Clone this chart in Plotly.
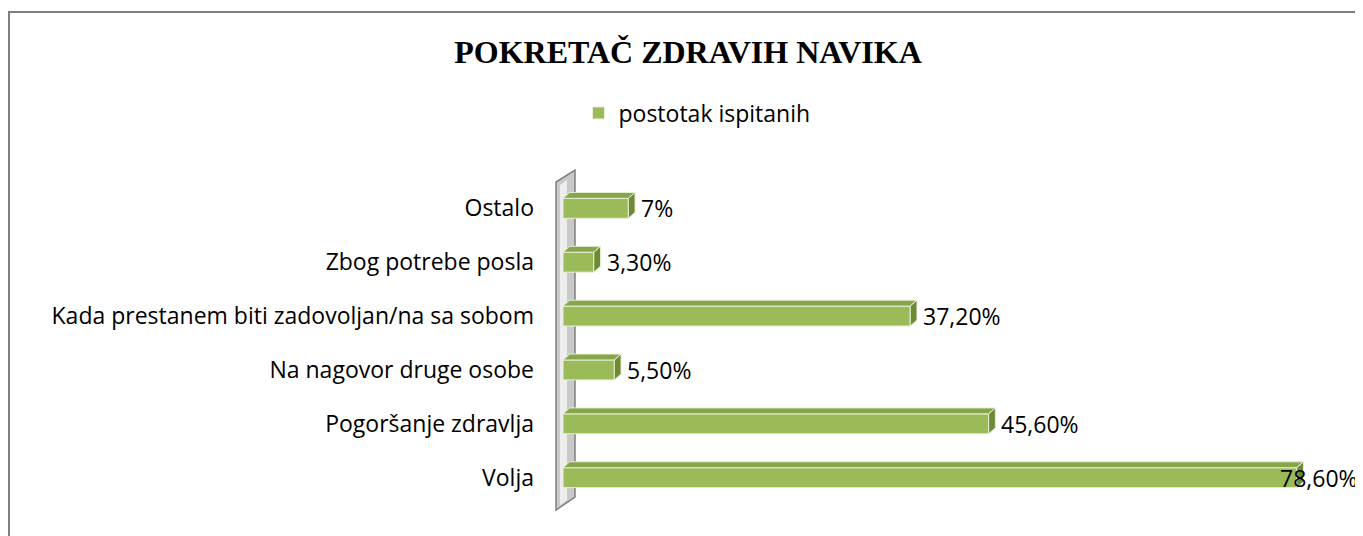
import plotly.graph_objects as go

categories = ["Volja", "Pogoršanje zdravlja", "Na nagovor druge osobe",
              "Kada prestanem biti zadovoljan/na sa sobom", "Zbog potrebe posla", "Ostalo"]
values = [78.6, 45.6, 5.5, 37.2, 3.3, 7.0]
labels = ["78,60%", "45,60%", "5,50%", "37,20%", "3,30%", "7%"]
series_name = "postotak ispitanih"
title_text = "POKRETAČ ZDRAVIH NAVIKA"

# page body has an 8px margin; figure is sized so the page fills the window
OFF = 8
W, H = 1363 - OFF, 536 - OFF
GREEN = "#9BBB59"
TOP = "#86A64A"
SIDE = "#6F8A35"
EDGE = "#E8EFD8"
FONT = "Open Sans"
FS = 23

XMAX = 85.7
YR = [-0.6, 5.6]
bar_w = 0.37
dx = 0.72   # depth offset in x data units
dy = 0.11   # depth offset in y data units

idx = list(range(len(categories)))


def px(x, y):
    """screen pixel -> paper coordinates"""
    return (x - OFF) / W, 1 - (y - OFF) / H


fig = go.Figure()
fig.add_trace(go.Bar(
    x=values, y=idx, orientation="h", width=bar_w,
    marker=dict(color=GREEN, line=dict(color=EDGE, width=1)),
    name=series_name, showlegend=True,
))

shapes = []
# 3D wall on the left
wall = [px(556, 510), px(556, 182), px(575, 170), px(575, 497)]
path = "M " + " L ".join(f"{a},{b}" for a, b in wall) + " Z"
shapes.append(dict(type="path", xref="paper", yref="paper", path=path,
                   fillcolor="#C9C9C9", line=dict(color="#7F7F7F", width=1.5), layer="below"))
inner = [px(560, 505), px(560, 185), px(567, 180), px(567, 500)]
path2 = "M " + " L ".join(f"{a},{b}" for a, b in inner) + " Z"
shapes.append(dict(type="path", xref="paper", yref="paper", path=path2,
                   fillcolor="#EDEDED", line=dict(width=0), layer="below"))

# 3D faces of bars
for i, v in zip(idx, values):
    t = i + bar_w / 2
    b = i - bar_w / 2
    top = f"M 0,{t} L {v},{t} L {v+dx},{t+dy} L {dx},{t+dy} Z"
    shapes.append(dict(type="path", xref="x", yref="y", path=top,
                       fillcolor=TOP, line=dict(color=EDGE, width=1)))
    side = f"M {v},{b} L {v},{t} L {v+dx},{t+dy} L {v+dx},{b+dy} Z"
    shapes.append(dict(type="path", xref="x", yref="y", path=side,
                       fillcolor=SIDE, line=dict(color=EDGE, width=1)))

# outer border
bx, by = px(9, 12)
shapes.append(dict(type="rect", xref="paper", yref="paper",
                   x0=bx, x1=1.2, y0=-0.2, y1=by,
                   line=dict(color="#7F7F7F", width=2), fillcolor="rgba(0,0,0,0)"))

annotations = []
for i, v, lab in zip(idx, values, labels):
    est_w = 13.5 * len(lab) / 9.33
    if v + dx + est_w + 1.0 > XMAX:
        annotations.append(dict(x=1.0, xref="paper", y=i, yref="y", text=lab,
                                showarrow=False, xanchor="right", yanchor="middle", xshift=-3,
                                font=dict(family=FONT, size=FS, color="#000")))
    else:
        annotations.append(dict(x=v + dx, xref="x", y=i, yref="y", text=lab,
                                showarrow=False, xanchor="left", yanchor="middle", xshift=4,
                                font=dict(family=FONT, size=FS, color="#000")))

tx, ty = px(688, 52)
lx, ly = px(697, 113)
x0d, _ = px(563, 0)
_, yb = px(0, 510)
_, yt = px(0, 176)

fig.update_layout(
    width=W, height=H,
    margin=dict(l=0, r=0, t=0, b=0),
    paper_bgcolor="white", plot_bgcolor="white",
    title=dict(text=f"<b>{title_text}</b>", x=tx, xanchor="center",
               y=ty, yanchor="middle",
               font=dict(family="Liberation Serif", size=32, color="#000")),
    legend=dict(orientation="h", x=lx, xanchor="center", y=ly, yanchor="middle",
                itemwidth=30,
                font=dict(family=FONT, size=FS, color="#000"), bgcolor="rgba(0,0,0,0)"),
    xaxis=dict(domain=[x0d, 1], range=[0, XMAX], visible=False, fixedrange=True),
    yaxis=dict(domain=[yb, yt], range=YR,
               tickvals=idx, ticktext=categories, showgrid=False, zeroline=False,
               showline=False, ticks="", ticklabelstandoff=28,
               tickfont=dict(family=FONT, size=FS, color="#000")),
    shapes=shapes, annotations=annotations,
    bargap=0.6,
)

fig.write_html("out.html")
